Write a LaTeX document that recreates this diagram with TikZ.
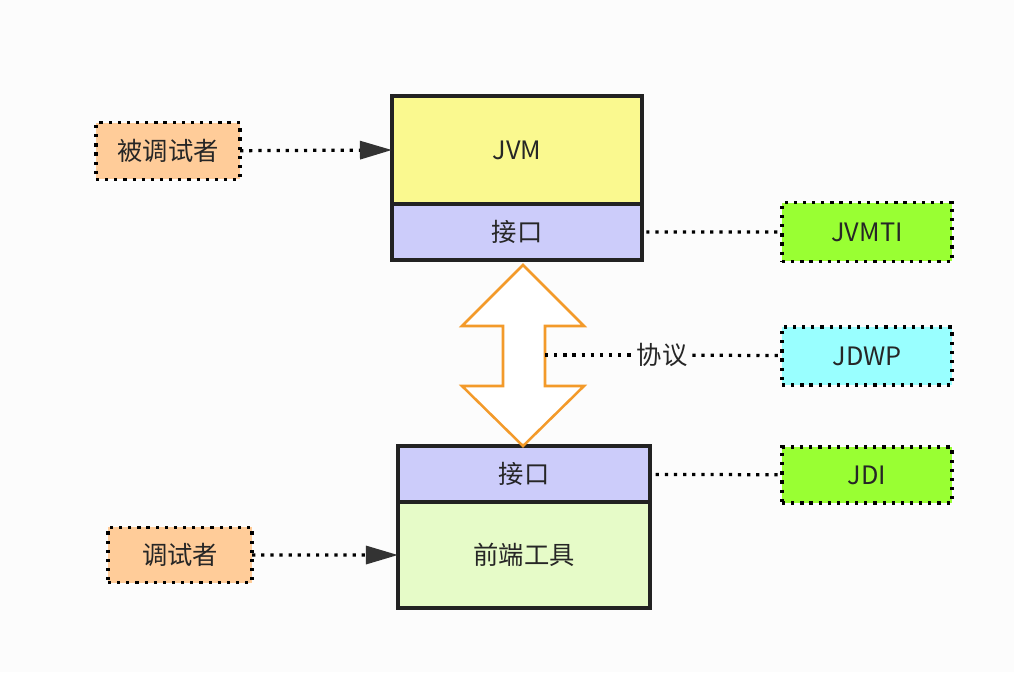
\documentclass[tikz,border=0pt]{standalone}
\usepackage{fontspec}
\setmainfont{Noto Sans CJK SC}
\usetikzlibrary{positioning,arrows.meta}
\definecolor{vmyellow}{HTML}{FAF98F}
\definecolor{ifblue}{HTML}{CCCCFA}
\definecolor{toolgreen}{HTML}{E6FBC8}
\definecolor{peach}{HTML}{FFCC99}
\definecolor{lime}{HTML}{99FF33}
\definecolor{aqua}{HTML}{99FFFF}
\definecolor{edge}{HTML}{222222}
\definecolor{tip}{HTML}{333333}
\definecolor{bigarrow}{HTML}{F39A2A}
\tikzset{every block/.style={draw=edge, line width=2.4pt, inner sep=0pt, outer sep=0pt,
                              font=\fontsize{18}{20}\selectfont, text=black!85},
        block/.style={every block, minimum width=6.25cm},
        dotbox/.style={draw=black, line width=2.3pt, dash pattern=on 2.3pt off 4.2pt,
                       minimum width=4.25cm, inner sep=0pt, outer sep=0pt,
                       font=\fontsize{18}{20}\selectfont, text=black!85},
        dotline/.style={draw=black, line width=2.3pt, dash pattern=on 2.3pt off 4.2pt},
        feed/.style={dotline, -{Triangle[length=0.8cm, width=0.45cm, fill=tip, color=tip]}},
        }

\begin{document}
\begin{tikzpicture}[x=0.025cm, y=-0.025cm]
    \fill[white!99!black] (0,0) rectangle (1014,672);

    % upper stack
    \node[block, fill=vmyellow, minimum height=2.7cm] (jvm) at (517,150) {JVM};
    \node[block, fill=ifblue, minimum height=1.4cm, below=0 of jvm] (jvmif) {接口};

    % lower stack
    \node[block, fill=ifblue, minimum width=6.3cm, minimum height=1.4cm] (toolif) at (524,474) {接口};
    \node[block, fill=toolgreen, minimum width=6.3cm, minimum height=2.65cm, below=0 of toolif] (tool) {前端工具};

    % actors
    \node[dotbox, fill=peach, minimum width=3.6cm, minimum height=1.42cm] (debuggee) at (168,151) {被调试者};
    \node[dotbox, fill=peach, minimum width=3.6cm, minimum height=1.38cm] (debugger) at (180,555) {调试者};

    % specs
    \node[dotbox, fill=lime, minimum height=1.47cm] (jvmti) at (867,232) {JVMTI};
    \node[dotbox, fill=aqua, minimum height=1.45cm] (jdwp) at (867,356) {JDWP};
    \node[dotbox, fill=lime, minimum height=1.4cm] (jdi) at (867,475) {JDI};

    % two-way arrow
    \draw[bigarrow, line width=1.8pt, fill=white, line join=miter]
        (523,265) -- (584,326) -- (545,326) -- (545,386) -- (584,386) -- (523,446)
        -- (462,386) -- (503,386) -- (503,326) -- (462,326) -- cycle;
    \coordinate (shaft) at (545,355);
    \node[font=\fontsize{18}{20}\selectfont, text=black!85] (proto) at (662,355) {协议};

    \draw[feed] (debuggee) -- (jvm.west);
    \draw[feed] (debugger) -- (tool.west);
    \draw[dotline, shorten <=3pt] (jvmif) -- (jvmti);
    \draw[dotline] (shaft) -- (proto);
    \draw[dotline] (proto) -- (jdwp);
    \draw[dotline, shorten <=4pt] (toolif) -- (jdi);
\end{tikzpicture}
\end{document}
